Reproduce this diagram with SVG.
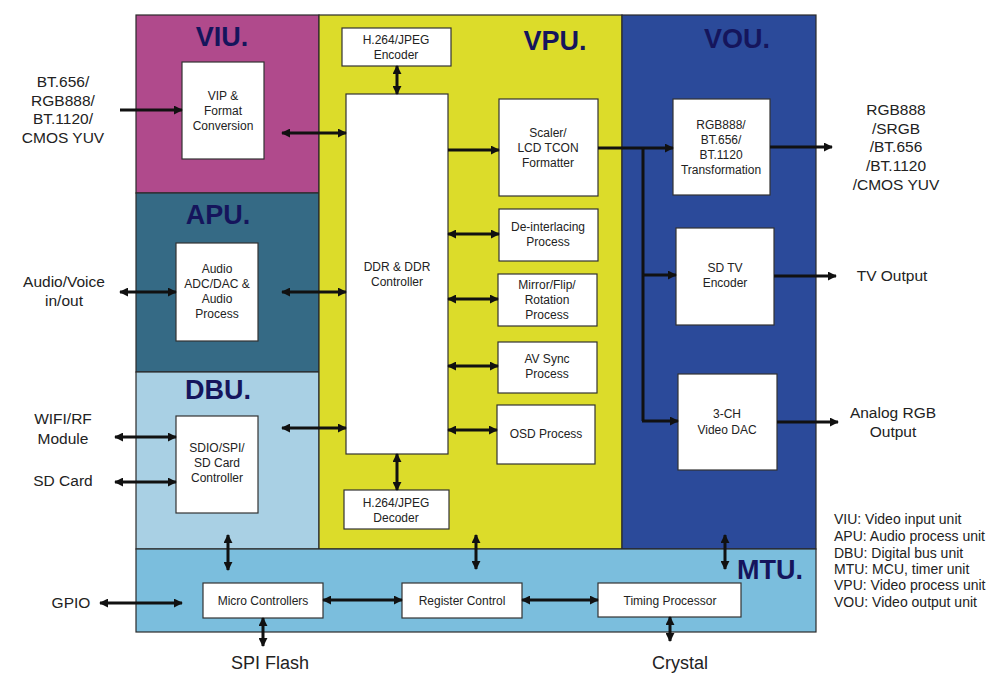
<svg xmlns="http://www.w3.org/2000/svg" width="1003" height="694" viewBox="0 0 1003 694">
<defs>
<marker id="ah" viewBox="0 0 10 10" refX="9" refY="5" markerWidth="9" markerHeight="9" markerUnits="userSpaceOnUse" orient="auto-start-reverse">
<path d="M0,0 L10,5 L0,10 z" fill="#111"/>
</marker>
<style>
.panel{stroke:#2a2a2a;stroke-width:1.2}
.box{fill:#fff;stroke:#333;stroke-width:1.2}
.bt{font-family:"Liberation Sans",Arial,sans-serif;font-size:12px;fill:#222;text-anchor:middle}
.ext{font-family:"Liberation Sans",Arial,sans-serif;font-size:15.5px;fill:#222;text-anchor:middle}
.big{font-family:"Liberation Sans",Arial,sans-serif;font-size:18px;fill:#222;text-anchor:middle}
.unit{font-family:"Liberation Sans",Arial,sans-serif;font-size:27px;font-weight:bold;fill:#15155c;text-anchor:middle}
.leg{font-family:"Liberation Sans",Arial,sans-serif;font-size:14px;fill:#222}
.c{stroke:#111;stroke-width:3;fill:none}
.c1{marker-end:url(#ah)}
.c2{marker-start:url(#ah);marker-end:url(#ah)}
</style>
</defs>
<rect width="1003" height="694" fill="#fff"/>

<g id="VIU">
<rect class="panel" x="136" y="15" width="183" height="178" fill="#b04a8c"/>
<text class="unit" x="222" y="46">VIU.</text>
</g>
<g id="APU">
<rect class="panel" x="136" y="193" width="183" height="179" fill="#356a85"/>
<text class="unit" x="218" y="224">APU.</text>
</g>
<g id="DBU">
<rect class="panel" x="136" y="372" width="183" height="177" fill="#a9d0e4"/>
<text class="unit" x="218" y="399">DBU.</text>
</g>
<g id="VPU">
<rect class="panel" x="319" y="15" width="303" height="534" fill="#dcdc2a"/>
<text class="unit" x="555" y="50">VPU.</text>
</g>
<g id="VOU">
<rect class="panel" x="622" y="15" width="194" height="534" fill="#2b4a9a"/>
<text class="unit" x="737" y="48">VOU.</text>
</g>
<g id="MTU">
<rect class="panel" x="136" y="549" width="680" height="83" fill="#7bbedd"/>
<text class="unit" x="770" y="579">MTU.</text>
</g>

<g id="vip">
<rect class="box" x="182" y="62" width="82" height="97"/>
<text class="bt"><tspan x="223" y="100">VIP &amp;</tspan><tspan x="223" y="115">Format</tspan><tspan x="223" y="130">Conversion</tspan></text>
</g>
<g id="audio">
<rect class="box" x="176" y="243" width="82" height="98"/>
<text class="bt"><tspan x="217" y="273">Audio</tspan><tspan x="217" y="288">ADC/DAC &amp;</tspan><tspan x="217" y="303">Audio</tspan><tspan x="217" y="318">Process</tspan></text>
</g>
<g id="sdio">
<rect class="box" x="176" y="416" width="82" height="97"/>
<text class="bt"><tspan x="217" y="452">SDIO/SPI/</tspan><tspan x="217" y="467">SD Card</tspan><tspan x="217" y="482">Controller</tspan></text>
</g>
<g id="encoder">
<rect class="box" x="342" y="28" width="109" height="38"/>
<text class="bt"><tspan x="396" y="44">H.264/JPEG</tspan><tspan x="396" y="59">Encoder</tspan></text>
</g>
<g id="ddr">
<rect class="box" x="346" y="94" width="102" height="360"/>
<text class="bt"><tspan x="397" y="271">DDR &amp; DDR</tspan><tspan x="397" y="286">Controller</tspan></text>
</g>
<g id="decoder">
<rect class="box" x="344" y="490" width="105" height="39"/>
<text class="bt"><tspan x="396" y="507">H.264/JPEG</tspan><tspan x="396" y="522">Decoder</tspan></text>
</g>
<g id="scaler">
<rect class="box" x="499" y="99" width="99" height="97"/>
<text class="bt"><tspan x="548" y="137">Scaler/</tspan><tspan x="548" y="152">LCD TCON</tspan><tspan x="548" y="167">Formatter</tspan></text>
</g>
<g id="deint">
<rect class="box" x="499" y="209" width="99" height="52"/>
<text class="bt"><tspan x="548" y="231">De-interlacing</tspan><tspan x="548" y="246">Process</tspan></text>
</g>
<g id="mirror">
<rect class="box" x="498" y="274" width="99" height="52"/>
<text class="bt"><tspan x="547" y="289">Mirror/Flip/</tspan><tspan x="547" y="304">Rotation</tspan><tspan x="547" y="319">Process</tspan></text>
</g>
<g id="avsync">
<rect class="box" x="498" y="342" width="99" height="51"/>
<text class="bt"><tspan x="547" y="363">AV Sync</tspan><tspan x="547" y="378">Process</tspan></text>
</g>
<g id="osd">
<rect class="box" x="497" y="405" width="98" height="59"/>
<text class="bt" x="546" y="438">OSD Process</text>
</g>
<g id="rgbtrans">
<rect class="box" x="673" y="99" width="97" height="96"/>
<text class="bt"><tspan x="721" y="129">RGB888/</tspan><tspan x="721" y="144">BT.656/</tspan><tspan x="721" y="159">BT.1120</tspan><tspan x="721" y="174">Transformation</tspan></text>
</g>
<g id="sdtv">
<rect class="box" x="676" y="228" width="98" height="97"/>
<text class="bt"><tspan x="725" y="272">SD TV</tspan><tspan x="725" y="287">Encoder</tspan></text>
</g>
<g id="dac">
<rect class="box" x="678" y="374" width="99" height="96"/>
<text class="bt"><tspan x="727" y="418">3-CH</tspan><tspan x="727" y="434">Video DAC</tspan></text>
</g>
<g id="micro">
<rect class="box" x="203" y="583" width="120" height="35"/>
<text class="bt" x="263" y="605">Micro Controllers</text>
</g>
<g id="register">
<rect class="box" x="402" y="583" width="120" height="35"/>
<text class="bt" x="462" y="605">Register Control</text>
</g>
<g id="timing">
<rect class="box" x="598" y="583" width="143" height="34"/>
<text class="bt" x="670" y="605">Timing Processor</text>
</g>

<g id="labels">
<text class="ext"><tspan x="63" y="87">BT.656/</tspan><tspan x="63" y="106">RGB888/</tspan><tspan x="63" y="124">BT.1120/</tspan><tspan x="63" y="143">CMOS YUV</tspan></text>
<text class="ext"><tspan x="64" y="287">Audio/Voice</tspan><tspan x="64" y="306">in/out</tspan></text>
<text class="ext"><tspan x="63" y="424">WIFI/RF</tspan><tspan x="63" y="444">Module</tspan></text>
<text class="ext" x="63" y="486">SD Card</text>
<text class="ext" x="71" y="608">GPIO</text>
<text class="big" x="270" y="669">SPI Flash</text>
<text class="big" x="680" y="669">Crystal</text>
<text class="ext"><tspan x="896" y="115">RGB888</tspan><tspan x="896" y="134">/SRGB</tspan><tspan x="896" y="152">/BT.656</tspan><tspan x="896" y="171">/BT.1120</tspan><tspan x="896" y="190">/CMOS YUV</tspan></text>
<text class="ext" x="892" y="281">TV Output</text>
<text class="ext"><tspan x="893" y="418">Analog RGB</tspan><tspan x="893" y="437">Output</tspan></text>
</g>

<g id="legend">
<text class="leg"><tspan x="834" y="524">VIU: Video input unit</tspan><tspan x="834" y="541">APU: Audio process unit</tspan><tspan x="834" y="558">DBU: Digital bus unit</tspan><tspan x="834" y="574">MTU: MCU, timer unit</tspan><tspan x="834" y="590">VPU: Video process unit</tspan><tspan x="834" y="607">VOU: Video output unit</tspan></text>
</g>

<g id="connectors">
<line class="c c1" x1="120" y1="110" x2="182" y2="110"/>
<line class="c c2" x1="282" y1="133" x2="346" y2="133"/>
<line class="c c2" x1="120" y1="292" x2="176" y2="292"/>
<line class="c c2" x1="282" y1="292" x2="346" y2="292"/>
<line class="c c2" x1="115" y1="437" x2="176" y2="437"/>
<line class="c c2" x1="115" y1="482" x2="176" y2="482"/>
<line class="c c2" x1="282" y1="428" x2="346" y2="428"/>
<line class="c c2" x1="397" y1="66" x2="397" y2="94"/>
<line class="c c2" x1="397" y1="454" x2="397" y2="490"/>
<line class="c c1" x1="448" y1="150" x2="499" y2="150"/>
<line class="c c2" x1="448" y1="234" x2="499" y2="234"/>
<line class="c c2" x1="448" y1="299" x2="498" y2="299"/>
<line class="c c2" x1="448" y1="366" x2="498" y2="366"/>
<line class="c c2" x1="448" y1="430" x2="497" y2="430"/>
<line class="c c1" x1="598" y1="148" x2="673" y2="148"/>
<line class="c" x1="643" y1="148" x2="643" y2="421"/>
<line class="c c1" x1="642" y1="275" x2="676" y2="275"/>
<line class="c c1" x1="642" y1="421" x2="678" y2="421"/>
<line class="c c1" x1="770" y1="147" x2="832" y2="147"/>
<line class="c c1" x1="774" y1="276" x2="836" y2="276"/>
<line class="c c1" x1="777" y1="422" x2="838" y2="422"/>
<line class="c c2" x1="228" y1="535" x2="228" y2="570"/>
<line class="c c2" x1="476" y1="535" x2="476" y2="569"/>
<line class="c c2" x1="725" y1="535" x2="725" y2="569"/>
<line class="c c2" x1="100" y1="603" x2="182" y2="603"/>
<line class="c c2" x1="323" y1="600" x2="402" y2="600"/>
<line class="c c2" x1="522" y1="600" x2="598" y2="600"/>
<line class="c c2" x1="263" y1="618" x2="263" y2="646"/>
<line class="c c2" x1="670" y1="617" x2="670" y2="641"/>
</g>
</svg>
